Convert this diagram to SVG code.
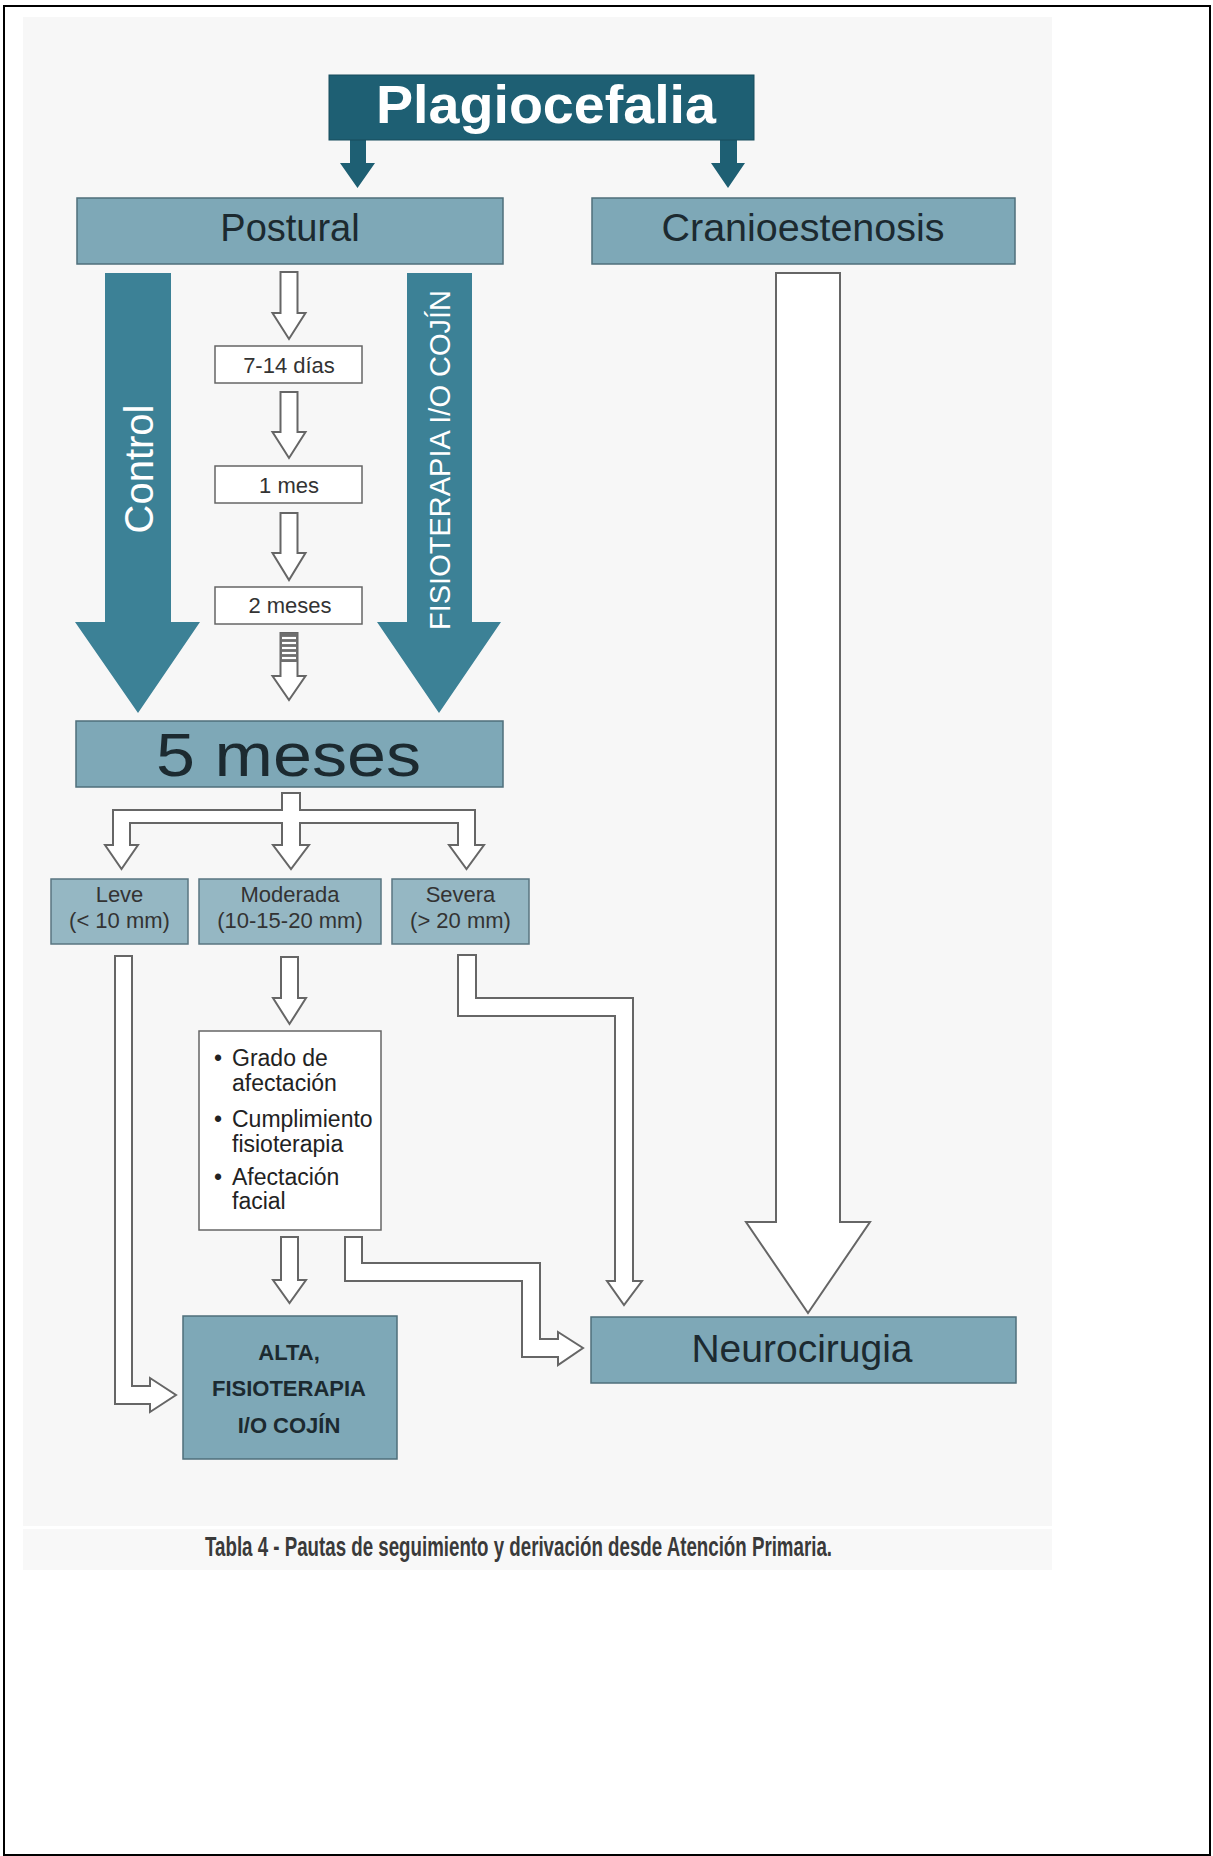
<svg xmlns="http://www.w3.org/2000/svg" width="1213" height="1856" viewBox="0 0 1213 1856">
<defs>
<style>
.t{font-family:"Liberation Sans",Arial,sans-serif}
.box{fill:#7ea8b7;stroke:#4f6f7b;stroke-width:1.5}
.lbox{fill:#95b7c3;stroke:#5a7681;stroke-width:1.5}
.wbox{fill:#ffffff;stroke:#666666;stroke-width:1.5}
.out{fill:#ffffff;stroke:#666666;stroke-width:2;stroke-linejoin:miter}
.teal{fill:#3c8196}
.dark{fill:#1e5f73}
.lbl{fill:#1c2a30;text-anchor:middle}
.sm{fill:#333333;text-anchor:middle;font-size:22px}
</style>
</defs>
<rect x="0" y="0" width="1213" height="1856" fill="#ffffff"/>
<rect x="23" y="17" width="1029" height="1509" fill="#f7f7f7"/>
<rect x="23" y="1529" width="1029" height="41" fill="#f8f8f8"/>
<rect x="4" y="6" width="1206" height="1849" fill="none" stroke="#000000" stroke-width="2"/>

<g id="connectors">
<polygon class="dark" points="350,140 366,140 366,163 375,163 357.5,188 340,163 350,163"/>
<polygon class="dark" points="720,140 737,140 737,163 745,163 728,188 711,163 720,163"/>
<polygon class="teal" points="105,273 171,273 171,622 200,622 138,713 75,622 105,622"/>
<polygon class="teal" points="407,273 472,273 472,622 501,622 439,713 377,622 407,622"/>
<polygon class="out" points="280.5,272 297.5,272 297.5,313 305.5,313 289,339 272.5,313 280.5,313"/>
<polygon class="out" points="280.5,392 297.5,392 297.5,432 305.5,432 289,458 272.5,432 280.5,432"/>
<polygon class="out" points="280.5,513 297.5,513 297.5,553 305.5,553 289,580 272.5,553 280.5,553"/>
<polygon class="out" points="280.5,633 297.5,633 297.5,676 305.5,676 289,700 272.5,676 280.5,676"/>
<rect x="280.5" y="633" width="17" height="29" fill="#6e6e6e"/>
<g stroke="#ffffff" stroke-width="2.2">
<line x1="282" y1="638" x2="296" y2="638"/>
<line x1="282" y1="643" x2="296" y2="643"/>
<line x1="282" y1="648" x2="296" y2="648"/>
<line x1="282" y1="653" x2="296" y2="653"/>
<line x1="282" y1="658" x2="296" y2="658"/>
</g>
<polygon class="out" points="776,273 840,273 840,1222 870,1222 808,1313 746,1222 776,1222"/>
<polygon class="out" points="282,793 300,793 300,810 475,810 475,845 484,845 466.5,869 449,845 458,845 458,823 300,823 300,845 309,845 291,869 273,845 282,845 282,823 130,823 130,845 138,845 121.5,869 105,845 113,845 113,810 282,810"/>
<polygon class="out" points="115,956 132,956 132,1386 150,1386 150,1378 176,1395 150,1412 150,1404 115,1404"/>
<polygon class="out" points="281,957 298,957 298,998 306,998 289.5,1024 273,998 281,998"/>
<polygon class="out" points="458,955 476,955 476,998 633,998 633,1281 642,1281 624,1305 607,1281 615,1281 615,1016 458,1016"/>
<polygon class="out" points="281,1237 298,1237 298,1280 306,1280 289.5,1303 273,1280 281,1280"/>
<polygon class="out" points="345,1237 362,1237 362,1263 540,1263 540,1339 558,1339 558,1332 583,1348 558,1365 558,1357 522,1357 522,1281 345,1281"/>
</g>

<g id="plagiocefalia">
<rect x="329" y="75" width="425" height="65" fill="#1e5f73" stroke="#174c5c" stroke-width="1"/>
<text class="t" x="546" y="123" font-size="54" font-weight="bold" fill="#ffffff" text-anchor="middle" textLength="340" lengthAdjust="spacingAndGlyphs">Plagiocefalia</text>
</g>
<g id="postural">
<rect class="box" x="77" y="198" width="426" height="66"/>
<text class="t lbl" x="290" y="241" font-size="38">Postural</text>
</g>
<g id="craneo">
<rect class="box" x="592" y="198" width="423" height="66"/>
<text class="t lbl" x="803" y="241" font-size="38" textLength="283" lengthAdjust="spacingAndGlyphs">Cranioestenosis</text>
</g>
<g id="control">
<text class="t" transform="translate(153,469) rotate(-90)" font-size="40" fill="#ffffff" text-anchor="middle">Control</text>
</g>
<g id="fisio-cojin">
<text class="t" transform="translate(450,460) rotate(-90)" font-size="29" fill="#ffffff" text-anchor="middle" textLength="340" lengthAdjust="spacingAndGlyphs">FISIOTERAPIA I/O COJÍN</text>
</g>
<g id="d714">
<rect class="wbox" x="215" y="346" width="147" height="37"/>
<text class="t sm" x="289" y="373">7-14 días</text>
</g>
<g id="m1">
<rect class="wbox" x="215" y="466" width="147" height="37"/>
<text class="t sm" x="289" y="493">1 mes</text>
</g>
<g id="m2">
<rect class="wbox" x="215" y="587" width="147" height="37"/>
<text class="t sm" x="290" y="613">2 meses</text>
</g>
<g id="m5">
<rect class="box" x="76" y="721" width="427" height="66"/>
<text class="t lbl" x="288.5" y="776" font-size="62" textLength="265" lengthAdjust="spacingAndGlyphs">5 meses</text>
</g>
<g id="leve">
<rect class="lbox" x="51" y="879" width="137" height="65"/>
<text class="t sm" x="119.5" y="902">Leve</text>
<text class="t sm" x="119.5" y="928">(&lt; 10 mm)</text>
</g>
<g id="moderada">
<rect class="lbox" x="199" y="879" width="182" height="65"/>
<text class="t sm" x="290" y="902">Moderada</text>
<text class="t sm" x="290" y="928">(10-15-20 mm)</text>
</g>
<g id="severa">
<rect class="lbox" x="392" y="879" width="137" height="65"/>
<text class="t sm" x="460.5" y="902">Severa</text>
<text class="t sm" x="460.5" y="928">(&gt; 20 mm)</text>
</g>
<g id="criterios">
<rect class="wbox" x="199" y="1031" width="182" height="199"/>
<g class="t" font-size="23" fill="#222222">
<text x="214" y="1066">•</text><text x="232" y="1066">Grado de</text>
<text x="232" y="1091">afectación</text>
<text x="214" y="1127">•</text><text x="232" y="1127">Cumplimiento</text>
<text x="232" y="1152">fisioterapia</text>
<text x="214" y="1185">•</text><text x="232" y="1185">Afectación</text>
<text x="232" y="1209">facial</text>
</g>
</g>
<g id="alta">
<rect class="box" x="183" y="1316" width="214" height="143"/>
<g class="t lbl" font-size="22" font-weight="bold" fill="#243238">
<text x="289" y="1360">ALTA,</text>
<text x="289" y="1396">FISIOTERAPIA</text>
<text x="289" y="1433">I/O COJÍN</text>
</g>
</g>
<g id="neurocirugia">
<rect class="box" x="591" y="1317" width="425" height="66"/>
<text class="t lbl" x="802" y="1362" font-size="39">Neurocirugia</text>
</g>
<g id="caption">
<text x="205" y="1556" font-family="'Liberation Sans Narrow','Liberation Sans',sans-serif" font-size="28" font-weight="bold" fill="#3a3a3a" textLength="627" lengthAdjust="spacingAndGlyphs">Tabla 4 - Pautas de seguimiento y derivación desde Atención Primaria.</text>
</g>
</svg>
